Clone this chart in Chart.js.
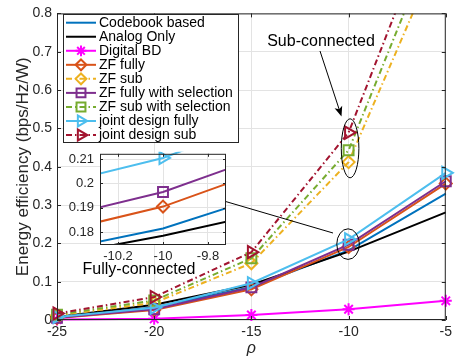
<!DOCTYPE html>
<html><head><meta charset="utf-8">
<script src="https://cdn.jsdelivr.net/npm/chart.js@4.4.1/dist/chart.umd.min.js"></script>
<style>
html,body{margin:0;padding:0;background:#fff;overflow:hidden;}
#wrap{position:relative;width:456px;height:358px;}
#main{position:absolute;left:0;top:0;}
#inset{position:absolute;left:55px;top:140px;}
</style></head><body>
<div id="wrap"><canvas id="main" width="456" height="358"></canvas><canvas id="inset" width="180" height="125"></canvas></div>
<script>
// ---- data ----
const rho = [-25, -20, -15, -10, -5];
const seriesNames = ['Codebook based','Analog Only','Digital BD','ZF fully','ZF sub','ZF fully with selection','ZF sub with selection','joint design fully','joint design sub'];
const codebook   = [0.006, 0.033, 0.086, 0.1815, 0.330];
const analog     = [0.008, 0.040, 0.092, 0.1785, 0.281];
const digitalBD  = [0.001, 0.003, 0.013, 0.028, 0.050];
const zfFully    = [0.005, 0.026, 0.080, 0.1905, 0.356];
const zfSub      = [0.012, 0.045, 0.148, 0.412, 1.000];
const zfFullySel = [0.006, 0.028, 0.085, 0.1965, 0.362];
const zfSubSel   = [0.014, 0.051, 0.161, 0.443, 1.070];
const jointFully = [0.008, 0.032, 0.096, 0.2105, 0.384];
const jointSub   = [0.017, 0.060, 0.177, 0.489, 1.140];
const xTicks = [-25, -20, -15, -10, -5];
const yTicks = [0, 0.1, 0.2, 0.3, 0.4, 0.5, 0.6, 0.7, 0.8];
const insetXTicks = [-10.2, -10, -9.8];
const insetYTicks = [0.18, 0.19, 0.2, 0.21];

const allSeries = [codebook, analog, digitalBD, zfFully, zfSub, zfFullySel, zfSubSel, jointFully, jointSub];

// ---- styles ----
const SUBDASH = [6, 3, 1.5, 3];
const styles = [
  {color:'#0072BD', marker:null, dash:[]},
  {color:'#000000', marker:null, dash:[]},
  {color:'#FF00FF', marker:'star', dash:[], r:6},
  {color:'#D95319', marker:'rectRot', dash:[], r:6},
  {color:'#EDB120', marker:'rectRot', dash:SUBDASH, r:6},
  {color:'#7E2F8E', marker:'rect', dash:[], r:7},
  {color:'#77AC30', marker:'rect', dash:SUBDASH, r:7},
  {color:'#4DBEEE', marker:'triangle', dash:[], r:7, rot:90},
  {color:'#A2142F', marker:'triangle', dash:SUBDASH, r:7, rot:90}
];

Chart.defaults.font.family = "'Liberation Sans', Arial, sans-serif";
Chart.defaults.color = '#262626';
const GRID = '#e3e3e3';
const AX = '#262626';

function makeDatasets(clip) {
  return allSeries.map((vals, i) => {
    const s = styles[i];
    return {
      label: seriesNames[i],
      data: vals.map((v, k) => ({x: rho[k], y: v})),
      borderColor: s.color,
      backgroundColor: 'rgba(0,0,0,0)',
      borderWidth: 2,
      borderDash: s.dash,
      pointStyle: s.marker || 'circle',
      pointRadius: s.marker ? s.r : 0,
      pointRotation: s.rot || 0,
      pointBorderColor: s.color,
      pointBackgroundColor: 'rgba(0,0,0,0)',
      pointBorderWidth: 2,
      tension: 0,
      fill: false,
      clip: clip,
      order: allSeries.length - i
    };
  });
}

function drawMarker(ctx, style, x, y, r, rot) {
  ctx.beginPath();
  if (style === 'star') {
    const o = r * Math.SQRT1_2;
    ctx.moveTo(x - r, y); ctx.lineTo(x + r, y);
    ctx.moveTo(x, y - r); ctx.lineTo(x, y + r);
    ctx.moveTo(x - o, y - o); ctx.lineTo(x + o, y + o);
    ctx.moveTo(x - o, y + o); ctx.lineTo(x + o, y - o);
  } else if (style === 'rectRot') {
    ctx.moveTo(x, y - r); ctx.lineTo(x + r, y); ctx.lineTo(x, y + r); ctx.lineTo(x - r, y); ctx.closePath();
  } else if (style === 'rect') {
    const s = r * Math.SQRT1_2;
    ctx.rect(x - s, y - s, 2 * s, 2 * s);
  } else if (style === 'triangle') {
    let a = (rot || 0) * Math.PI / 180;
    ctx.moveTo(x + Math.sin(a) * r, y - Math.cos(a) * r);
    a += 2 * Math.PI / 3; ctx.lineTo(x + Math.sin(a) * r, y - Math.cos(a) * r);
    a += 2 * Math.PI / 3; ctx.lineTo(x + Math.sin(a) * r, y - Math.cos(a) * r);
    ctx.closePath();
  }
  ctx.stroke();
}

function arrow(ctx, x1, y1, x2, y2) {
  const ang = Math.atan2(y2 - y1, x2 - x1);
  const L = 10, W = 4;
  const bx = x2 - Math.cos(ang) * L, by = y2 - Math.sin(ang) * L;
  ctx.beginPath(); ctx.moveTo(x1, y1); ctx.lineTo(x2 - Math.cos(ang) * 4, y2 - Math.sin(ang) * 4); ctx.stroke();
  const nx = -Math.sin(ang), ny = Math.cos(ang);
  const mx = x2 - Math.cos(ang) * L * 0.75, my = y2 - Math.sin(ang) * L * 0.75;
  ctx.beginPath();
  ctx.moveTo(x2, y2);
  ctx.lineTo(bx + nx * W, by + ny * W);
  ctx.lineTo(mx, my);
  ctx.lineTo(bx - nx * W, by - ny * W);
  ctx.closePath(); ctx.fill();
}

function boxAndTicks(chart, len) {
  const {ctx, chartArea: a, scales: {x, y}} = chart;
  ctx.save();
  ctx.strokeStyle = AX; ctx.lineWidth = 1; ctx.setLineDash([]);
  ctx.strokeRect(a.left + 0.5, a.top + 0.5, a.right - a.left - 1, a.bottom - a.top - 1);
  ctx.beginPath();
  x.ticks.forEach(t => {
    const px = Math.round(x.getPixelForValue(t.value)) + 0.5;
    ctx.moveTo(px, a.bottom); ctx.lineTo(px, a.bottom - len);
    ctx.moveTo(px, a.top); ctx.lineTo(px, a.top + len);
  });
  y.ticks.forEach(t => {
    const py = Math.round(y.getPixelForValue(t.value)) + 0.5;
    ctx.moveTo(a.left, py); ctx.lineTo(a.left + len, py);
    ctx.moveTo(a.right, py); ctx.lineTo(a.right - len, py);
  });
  ctx.stroke();
  ctx.restore();
}

const mainDecor = {
  id: 'mainDecor',
  afterDatasetsDraw(chart) {
    const {ctx, scales: {x, y}} = chart;
    boxAndTicks(chart, 4);
    ctx.save();
    ctx.strokeStyle = '#000'; ctx.fillStyle = '#000'; ctx.lineWidth = 1;
    // ellipses
    ctx.beginPath();
    ctx.ellipse(x.getPixelForValue(-10) + 1.5, y.getPixelForValue(0.448), 8.8, 29.5, 0, 0, Math.PI * 2);
    ctx.stroke();
    ctx.beginPath();
    ctx.ellipse(x.getPixelForValue(-10) - 0.5, y.getPixelForValue(0.198), 11.3, 15.3, 0, 0, Math.PI * 2);
    ctx.stroke();
    // arrows
    arrow(ctx, 320, 51, 341.5, 116.5);
    arrow(ctx, 333, 233, 212, 197.5);
    // annotation texts
    ctx.font = "16px 'Liberation Sans', Arial, sans-serif";
    ctx.textAlign = 'center'; ctx.textBaseline = 'middle';
    ctx.fillText('Sub-connected', 321, 42);
    ctx.fillText('Fully-connected', 139, 270);
    // legend
    const L = {left: 63, top: 14, right: 239, bottom: 143};
    ctx.fillStyle = '#fff';
    ctx.fillRect(L.left, L.top, L.right - L.left, L.bottom - L.top);
    ctx.strokeStyle = AX;
    ctx.strokeRect(L.left + 0.5, L.top + 0.5, L.right - L.left - 1, L.bottom - L.top - 1);
    ctx.font = "14px 'Liberation Sans', Arial, sans-serif";
    ctx.textAlign = 'left';
    seriesNames.forEach((name, i) => {
      const s = styles[i];
      const yy = 22.7 + 14.04 * i;
      ctx.strokeStyle = s.color; ctx.lineWidth = 2;
      ctx.setLineDash(s.dash);
      ctx.beginPath(); ctx.moveTo(66, yy); ctx.lineTo(96, yy); ctx.stroke();
      ctx.setLineDash([]);
      if (s.marker) drawMarker(ctx, s.marker, 81, yy, s.r * 0.9, s.rot);
      ctx.fillStyle = '#000';
      ctx.fillText(name, 99, yy + 0.5);
    });
    ctx.restore();
  }
};

new Chart(document.getElementById('main'), {
  type: 'line',
  data: {datasets: makeDatasets({left: 10, right: 10, top: 0, bottom: 10})},
  options: {
    responsive: false, animation: false, devicePixelRatio: 1,
    layout: {padding: {top: 12, left: 0, right: 0, bottom: 0}},
    plugins: {legend: {display: false}, tooltip: {enabled: false}},
    scales: {
      x: {
        type: 'linear', min: -25, max: -5,
        afterBuildTicks: s => { s.ticks = xTicks.map(v => ({value: v})); },
        ticks: {font: {size: 14}, color: AX, padding: 4, maxRotation: 0, callback: v => String(v)},
        grid: {color: GRID, drawTicks: false},
        border: {display: false},
        title: {display: true, text: 'ρ', font: {size: 16, style: 'italic'}, color: AX, padding: {top: 0, bottom: 0}},
        afterFit: s => { s.height = 38; }
      },
      y: {
        type: 'linear', min: 0, max: 0.8,
        afterBuildTicks: s => { s.ticks = yTicks.map(v => ({value: v})); },
        ticks: {font: {size: 14}, color: AX, padding: 5, callback: v => String(Math.round(v * 10) / 10)},
        grid: {color: GRID, drawTicks: false},
        border: {display: false},
        title: {display: true, text: 'Energy efficiency (bps/Hz/W)', font: {size: 17}, color: AX, padding: {top: 13, bottom: 0}},
        afterFit: s => { s.width = 57; }
      }
    }
  },
  plugins: [mainDecor]
});

const insetDecor = {
  id: 'insetDecor',
  beforeDraw(chart) {
    const {ctx, chartArea: a} = chart;
    ctx.save(); ctx.fillStyle = '#fff';
    ctx.fillRect(a.left, a.top, a.right - a.left, a.bottom - a.top);
    ctx.restore();
  },
  afterDatasetsDraw(chart) { boxAndTicks(chart, 3); }
};

new Chart(document.getElementById('inset'), {
  type: 'line',
  data: {datasets: makeDatasets({left: 0, right: 0, top: 2, bottom: 0})},
  options: {
    responsive: false, animation: false, devicePixelRatio: 1,
    layout: {padding: {top: 9, left: 0, right: 7, bottom: 0}},
    plugins: {legend: {display: false}, tooltip: {enabled: false}},
    scales: {
      x: {
        type: 'linear', min: -10.28, max: -9.72,
        afterBuildTicks: s => { s.ticks = insetXTicks.map(v => ({value: v})); },
        ticks: {font: {size: 13}, color: AX, padding: 4, maxRotation: 0, callback: v => String(Math.round(v * 100) / 100)},
        grid: {color: GRID, drawTicks: false},
        border: {display: false},
        afterFit: s => { s.height = 20; }
      },
      y: {
        type: 'linear', min: 0.1747, max: 0.2122,
        afterBuildTicks: s => { s.ticks = insetYTicks.map(v => ({value: v})); },
        ticks: {font: {size: 13}, color: AX, padding: 6, callback: v => String(Math.round(v * 1000) / 1000)},
        grid: {color: GRID, drawTicks: false},
        border: {display: false},
        afterFit: s => { s.width = 45; }
      }
    }
  },
  plugins: [insetDecor]
});
</script>
</body></html>
